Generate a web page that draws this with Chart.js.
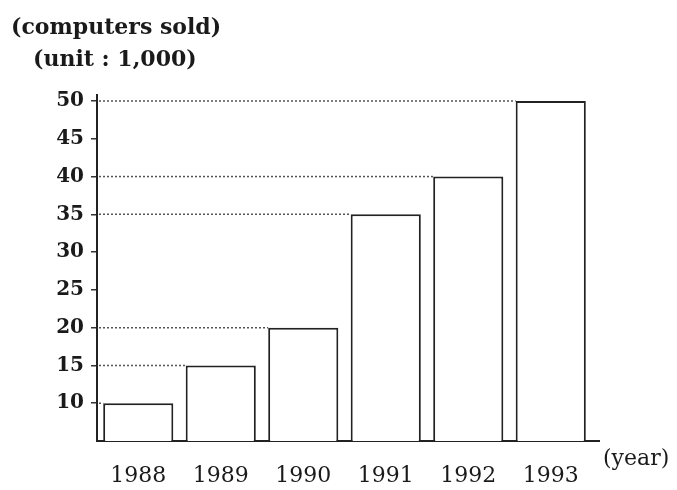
<!DOCTYPE html>
<html>
<head>
<meta charset="utf-8">
<script src="https://cdn.jsdelivr.net/npm/chart.js@4"></script>
<style>
    body { margin: 0; background: #fff; }
    #wrap { position: relative; width: 677px; height: 490px; }
    .note { position: absolute; font-family: "DejaVu Serif", serif; color: #1a1a1a; line-height: 26px; white-space: nowrap; }
</style>
</head>
<body>
<div id="wrap">
    <canvas id="myChart" width="677" height="490"></canvas>
    <div class="note" style="left:11px; top:13px; font-size:22px; font-weight:bold;">(computers sold)</div>
    <div class="note" style="left:33px; top:45px; font-size:22px; font-weight:bold;">(unit : 1,000)</div>
    <div class="note" style="left:603px; top:445px; font-size:22px;">(year)</div>
</div>
<script>
// Years on the x axis
const years = ["1988", "1989", "1990", "1991", "1992", "1993"];

// Computers sold, in thousands
const sold = [10, 15, 20, 35, 40, 50];

// Y axis range and step
const yMin = 5;
const yMax = 50;
const yStep = 5;

// Draws dotted guide lines from the y axis to the top of each bar,
// and lets the two axis lines run on a little past the plot
const guideLines = {
    id: "guideLines",
    afterDatasetsDraw(chart) {
        const ctx = chart.ctx;
        const area = chart.chartArea;
        const bars = chart.getDatasetMeta(0).data;
        ctx.save();
        ctx.strokeStyle = "#555";
        ctx.lineWidth = 1.5;
        ctx.setLineDash([2, 2]);
        bars.forEach(bar => {
            const left = bar.x - bar.width / 2;
            ctx.beginPath();
            ctx.moveTo(area.left + 2, bar.y);
            ctx.lineTo(left, bar.y);
            ctx.stroke();
        });
        ctx.setLineDash([]);
        ctx.strokeStyle = "#222";
        ctx.lineWidth = 2;
        ctx.beginPath();
        ctx.moveTo(area.right, area.bottom);
        ctx.lineTo(area.right + 8, area.bottom);
        ctx.moveTo(area.left, area.top);
        ctx.lineTo(area.left, area.top - 7);
        ctx.stroke();
        ctx.restore();
    }
};

const config = {
    type: "bar",
    data: {
        labels: years,
        datasets: [{
            data: sold,
            backgroundColor: "#ffffff",
            borderColor: "#222",
            borderWidth: 2,
            borderSkipped: false,
            barPercentage: 0.85,
            categoryPercentage: 1
        }]
    },
    options: {
        responsive: false,
        animation: false,
        layout: { padding: { top: 101, right: 85, left: 0, bottom: 0 } },
        plugins: {
            legend: { display: false },
            tooltip: { enabled: false }
        },
        scales: {
            x: {
                grid: { drawOnChartArea: false, drawTicks: false },
                border: { display: true, color: "#222", width: 2 },
                ticks: {
                    color: "#1a1a1a",
                    padding: 22,
                    font: { family: "DejaVu Serif", size: 22 }
                },
                afterFit: scale => { scale.height = 49; }
            },
            y: {
                min: yMin,
                max: yMax,
                grid: { drawOnChartArea: false, drawTicks: true, tickLength: 6, color: "#333", lineWidth: 1.5 },
                border: { display: true, color: "#222", width: 2 },
                ticks: {
                    stepSize: yStep,
                    color: "#1a1a1a",
                    padding: 7,
                    font: { family: "DejaVu Serif", size: 20, weight: "bold" },
                    callback: v => (v === yMin ? null : v)
                },
                afterFit: scale => { scale.width = 97; }
            }
        }
    },
    plugins: [guideLines]
};

const myChart = new Chart(document.getElementById("myChart"), config);
</script>
</body>
</html>
